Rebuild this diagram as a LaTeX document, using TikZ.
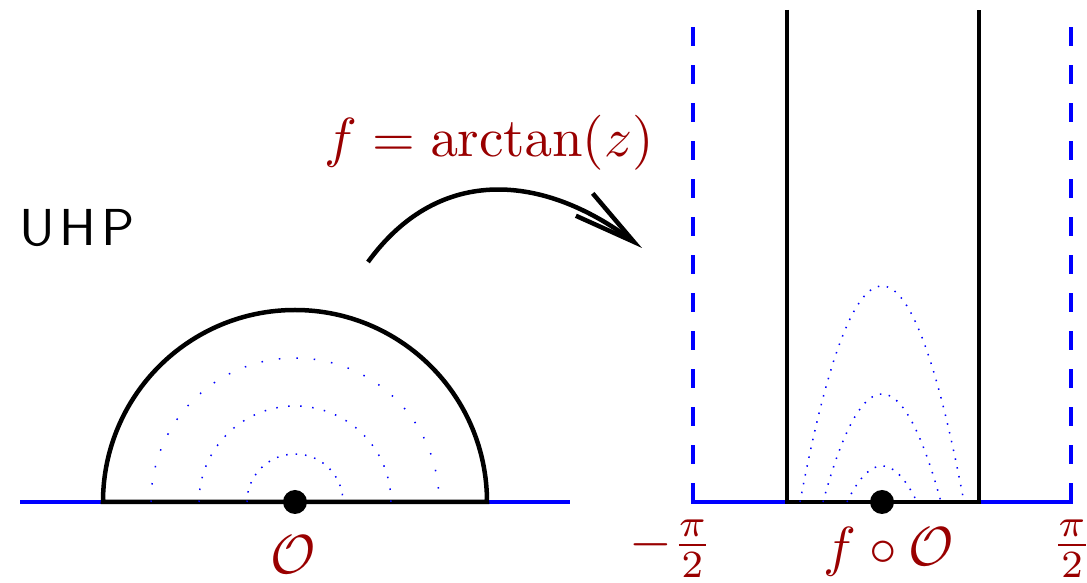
\documentclass[tikz,border=0pt]{standalone}
\usetikzlibrary{arrows.meta}
\definecolor{lblred}{RGB}{153,0,0}
\begin{document}
\begin{tikzpicture}[x=1pt,y=1pt,
  blk/.style={line width=4.5pt},
  bl/.style={blue,line width=4.5pt},
  dotc/.style={blue,line width=1.5pt,dash pattern=on 1.5pt off #1},
  lbl/.style={text=lblred,scale=5.5,inner sep=0pt},
]
\useasboundingbox (0,0) rectangle (1087,583);
% left half plane
\coordinate (L) at (295,81);
\draw[bl] (20,81) -- (103,81);
\draw[bl] (487,81) -- (570,81);
\draw[blk] (103,81) arc[start angle=180,end angle=0,radius=192] -- cycle;
\draw[dotc=16pt] (151,81) arc[start angle=180,end angle=0,radius=144];
\draw[dotc=10.5pt] (199,81) arc[start angle=180,end angle=0,radius=96];
\draw[dotc=8pt] (247,81) arc[start angle=180,end angle=0,radius=48];
\fill (L) circle[radius=12];
\node[lbl] (O) at (293,28) {$\mathcal{O}$};
\node[font=\sffamily,scale=5.2,inner sep=0pt] (uhp) at (77,355) {U\kern0.8pt H\kern0.9pt P};
% strip
\coordinate (R) at (882,81);
\draw[bl,dash pattern=on 19pt off 19pt] (693,81) -- (693,561);
\draw[bl,dash pattern=on 19pt off 19pt] (1071,81) -- (1071,561);
\draw[bl] (691,81) -- (787,81);
\draw[bl] (979,81) -- (1073,81);
\draw[blk] (787,573) -- (787,81) -- (979,81) -- (979,573);
\draw[dotc=7.5pt] plot[domain=-1:1,samples=80] ({882+82*\x},{81+216*(1-\x*\x)});
\draw[dotc=7.5pt] plot[domain=-1:1,samples=60] ({882+59*\x},{81+108*(1-\x*\x)});
\draw[dotc=7.5pt] plot[domain=-1:1,samples=40] ({882+35*\x},{81+36*(1-\x*\x)});
\fill (R) circle[radius=12];
\node[lbl] (fO) at (889,31) {$f\circ\mathcal{O}$};
\node[lbl] (mpi) at (671,34) {$-\frac{\pi}{2}$};
\node[lbl] (ppi) at (1072,34) {$\frac{\pi}{2}$};
% map arrow
\node[lbl] (fmap) at (489,440) {$f=\arctan(z)$};
\coordinate (as) at (368,321);
\coordinate (ae) at (642,335);
\draw[line width=4.5pt,-{Straight Barb[length=62pt,width=28pt,line cap=butt,line join=miter]}] (as) .. controls (440,420) and (545,408) .. (ae);
\end{tikzpicture}
\end{document}
